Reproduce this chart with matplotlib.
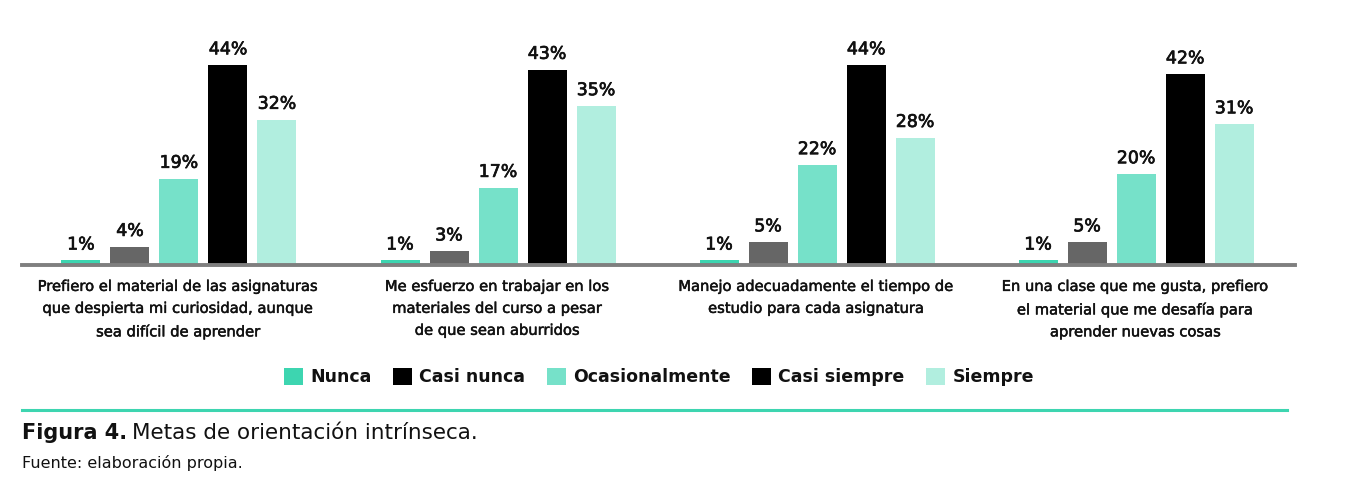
import matplotlib
matplotlib.use("Agg")
import matplotlib.pyplot as plt
import matplotlib.patheffects as pe
from matplotlib.patches import Patch
from matplotlib.lines import Line2D
import numpy as np

plt.rcParams['font.family'] = ['DejaVu Sans']

categories = [
    "Prefiero el material de las asignaturas\nque despierta mi curiosidad, aunque\nsea difícil de aprender",
    "Me esfuerzo en trabajar en los\nmateriales del curso a pesar\nde que sean aburridos",
    "Manejo adecuadamente el tiempo de\nestudio para cada asignatura",
    "En una clase que me gusta, prefiero\nel material que me desafía para\naprender nuevas cosas",
]
series_names = ["Nunca", "Casi nunca", "Ocasionalmente", "Casi siempre", "Siempre"]
nunca = [1, 1, 1, 1]
casi_nunca = [4, 3, 5, 5]
ocasionalmente = [19, 17, 22, 20]
casi_siempre = [44, 43, 44, 42]
siempre = [32, 35, 28, 31]
series_values = [nunca, casi_nunca, ocasionalmente, casi_siempre, siempre]

bar_colors = ["#3dd5b0", "#666666", "#76e1c9", "#000000", "#b1eedf"]
legend_colors = ["#3dd5b0", "#000000", "#76e1c9", "#000000", "#b1eedf"]

W, H = 1351, 498
fig = plt.figure(figsize=(W / 100, H / 100), dpi=100)
ax_left, ax_right = 22 / W, 1295 / W
ax_bottom = (H - 265) / H
ax_top = (H - 38) / H
ax = fig.add_axes([ax_left, ax_bottom, ax_right - ax_left, ax_top - ax_bottom])

medium = [pe.withStroke(linewidth=0.5, foreground="#111111")]

step = 49 / 319
width = 39 / 319
x = np.arange(len(categories))
for j, (vals, col) in enumerate(zip(series_values, bar_colors)):
    pos = x + (j - 2) * step
    ax.bar(pos, vals, width=width, color=col, zorder=2)
    for p, v in zip(pos, vals):
        ax.annotate(f"{v}%", (p, v), xytext=(0, 5), textcoords="offset points",
                    ha="center", va="bottom", fontsize=12.5, color="#111111",
                    path_effects=medium)

ax.set_xlim(-0.492, 3.498)
ax.set_ylim(0, 50)
for s in ["top", "right", "left"]:
    ax.spines[s].set_visible(False)
ax.spines["bottom"].set_color("#7f7f7f")
ax.spines["bottom"].set_linewidth(2.8)
ax.spines["bottom"].set_zorder(3)
ax.set_yticks([])
ax.set_xticks(x)
ax.set_xticklabels(categories, fontsize=10.6, linespacing=1.58, color="#111111")
for t in ax.get_xticklabels():
    t.set_path_effects([pe.withStroke(linewidth=0.35, foreground="#111111")])
ax.tick_params(axis="x", length=0, pad=10)

handles = [Patch(facecolor=c, edgecolor="none") for c in legend_colors]
leg = fig.legend(handles, series_names, loc="center", bbox_to_anchor=(659 / W, 1 - 377 / H),
                 ncol=5, frameon=False, handlelength=1.1, handleheight=1.1,
                 handletextpad=0.4, columnspacing=1.25, prop={'weight': 'bold', 'size': 12.5})
for t in leg.get_texts():
    t.set_color("#111111")

fig.add_artist(Line2D([22 / W, 1287 / W], [1 - 410 / H, 1 - 410 / H], color="#3dd5b0",
                      linewidth=2.2, transform=fig.transFigure))

t1 = fig.text(22 / W, 1 - 433 / H, "Figura 4.", fontsize=15, fontweight="bold",
              ha="left", va="center", color="#111111")
fig.canvas.draw()
bb = t1.get_window_extent()
fig.text(bb.x1 / W + 5 / W, 1 - 433 / H, "Metas de orientación intrínseca.", fontsize=15.5,
         ha="left", va="center", color="#111111")
fig.text(22 / W, 1 - 463 / H, "Fuente: elaboración propia.", fontsize=11.5,
         ha="left", va="center", color="#111111")

fig.savefig("out.png", dpi=100)
